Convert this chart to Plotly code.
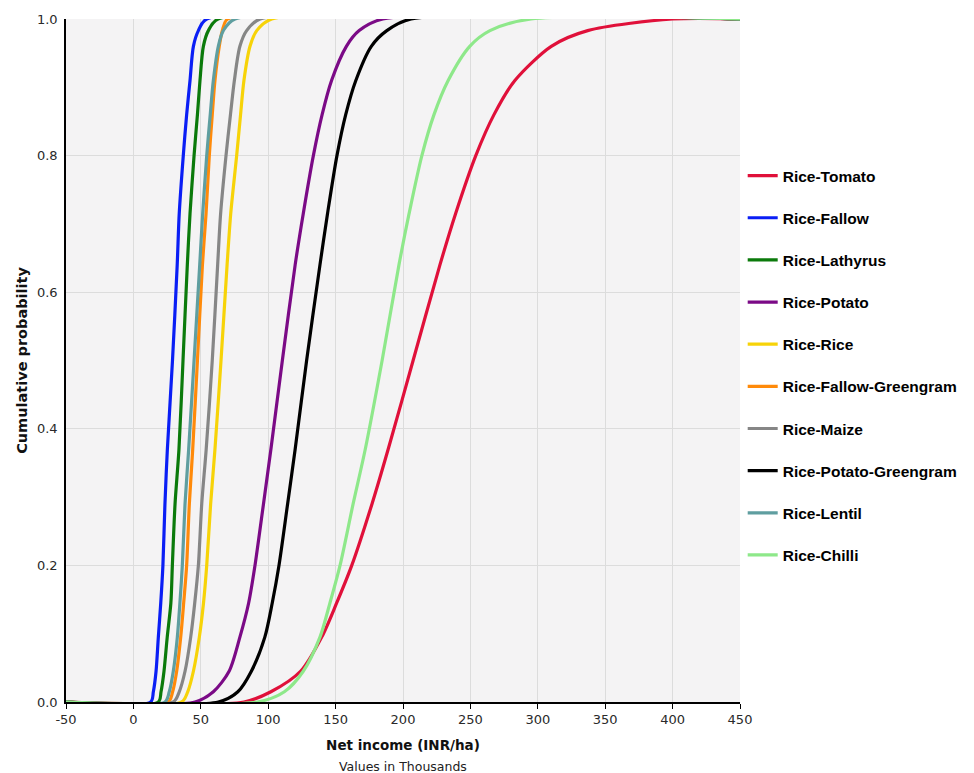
import plotly.graph_objects as go

# Cumulative probability levels at which x-values (thousand INR/ha) were read
prob = [0, 0.015, 0.045, 0.095, 0.145, 0.2, 0.29, 0.37, 0.5, 0.64, 0.715, 0.8, 0.86, 0.91, 0.96, 0.983, 1.0]

names = ["Rice-Tomato", "Rice-Fallow", "Rice-Lathyrus", "Rice-Potato", "Rice-Rice",
         "Rice-Fallow-Greengram", "Rice-Maize", "Rice-Potato-Greengram", "Rice-Lentil", "Rice-Chilli"]
colors = ["#e0103a", "#0a1ef5", "#0b7a0b", "#7b0a86", "#f7d308",
          "#ff8a0a", "#868686", "#000000", "#5f9ea0", "#8ee88a"]

rice_tomato = [82, 102, 124, 139.7, 150.8, 162, 177, 189, 207.5, 227.4, 239, 254, 267.5, 283, 310, 337, 400]
rice_fallow = [12.8, 14.8, 16.8, 18.5, 20.3, 21.9, 23.4, 25.2, 29, 32.5, 34, 37, 39.5, 42, 44.5, 48.2, 54.4]
rice_lathyrus = [18.5, 20.5, 22.7, 25.1, 27.8, 28.9, 30.9, 33.8, 36.8, 40, 42, 45, 47.5, 49.4, 51.9, 55.6, 62.8]
rice_potato = [45.7, 59.3, 71, 79, 85.5, 90.2, 96.5, 102, 110.5, 120, 126, 133.5, 140, 147, 158, 167.5, 185]
rice_rice = [35.8, 40.3, 44.5, 48.9, 52, 54.4, 57.3, 60.5, 65, 69.5, 72.2, 76.6, 79.5, 82, 86.5, 91.5, 102.6]
rice_fallow_greengram = [25.9, 29.1, 32.1, 35.1, 37.3, 39.5, 41.5, 44, 47.5, 51.2, 53.9, 56.3, 58.5, 60.5, 63.7, 66, 70]
rice_maize = [29.6, 34, 38.3, 42.5, 45.5, 48.2, 50.7, 54, 58.5, 62.5, 64.7, 68.7, 72, 74.9, 79, 84, 94]
rice_potato_greengram = [63, 77.5, 87.5, 97.5, 103, 108, 114.4, 120, 128.5, 138.4, 144, 151, 157.5, 165, 176.5, 188, 206]
rice_lentil = [23.4, 26.6, 29.6, 32.6, 34.5, 36.3, 38.3, 41, 45, 49.2, 51.4, 54.4, 57, 59.3, 63, 66.7, 75.4]
rice_chilli = [92, 112, 126, 138.4, 145.8, 153.3, 163, 172, 184.5, 197, 204.5, 214, 223, 233.5, 249.5, 264.5, 295]

series = [rice_tomato, rice_fallow, rice_lathyrus, rice_potato, rice_rice,
          rice_fallow_greengram, rice_maize, rice_potato_greengram, rice_lentil, rice_chilli]

x_min, x_max = -50, 450
x_ticks = [-50, 0, 50, 100, 150, 200, 250, 300, 350, 400, 450]
x_tick_labels = ["-50", "0", "50", "100", "150", "200", "250", "300", "350", "400", "450"]
y_ticks = [0, 0.2, 0.4, 0.6, 0.8, 1.0]
y_tick_labels = ["0.0", "0.2", "0.4", "0.6", "0.8", "1.0"]

fig = go.Figure()
for nm, col, xs in zip(names, colors, series):
    fig.add_trace(go.Scatter(
        x=[x_min] + xs + [x_max],
        y=[0] + prob + [1],
        mode="lines",
        name=nm,
        legendgroup=nm,
        line=dict(color=col, width=3.2, shape="spline", smoothing=0.8),
    ))

tick_font = dict(family="DejaVu Sans", size=13, color="#2a2a2a")
fig.update_layout(
    width=974, height=773,
    margin=dict(l=66, r=234, t=17, b=71),
    paper_bgcolor="white",
    plot_bgcolor="#f4f3f4",
    showlegend=True,
    legend=dict(
        x=1.004, xanchor="left", y=0.795, yanchor="top",
        font=dict(family="Liberation Sans", size=15.5, color="#000000", weight="bold"),
        tracegroupgap=19, itemwidth=30, bgcolor="rgba(0,0,0,0)",
    ),
    xaxis=dict(
        range=[x_min, x_max], tickvals=x_ticks, ticktext=x_tick_labels,
        ticks="outside", ticklen=5,
        tickcolor="#000", tickwidth=1, showline=True, linecolor="#000", linewidth=1.5,
        showgrid=True, gridcolor="#dcdcdc", gridwidth=1, zeroline=False,
        tickfont=tick_font,
        title=dict(text="<b>Net income (INR/ha)</b>", standoff=14,
                   font=dict(family="DejaVu Sans", size=13.5, color="#111")),
    ),
    yaxis=dict(
        range=[0, 1], tickvals=y_ticks, ticktext=y_tick_labels, ticks="",
        ticklabelstandoff=4,
        showline=True, linecolor="#000", linewidth=1.5,
        showgrid=True, gridcolor="#dcdcdc", gridwidth=1, zeroline=False,
        tickfont=tick_font,
        title=dict(text="<b>Cumulative probability</b>", standoff=6,
                   font=dict(family="DejaVu Sans", size=14.5, color="#111")),
    ),
    annotations=[dict(
        text="Values in Thousands", xref="paper", yref="paper",
        x=0.5, y=-0.095, xanchor="center", yanchor="middle", showarrow=False,
        font=dict(family="DejaVu Sans", size=12.5, color="#222"),
    )],
)

fig.write_html("out.html")
